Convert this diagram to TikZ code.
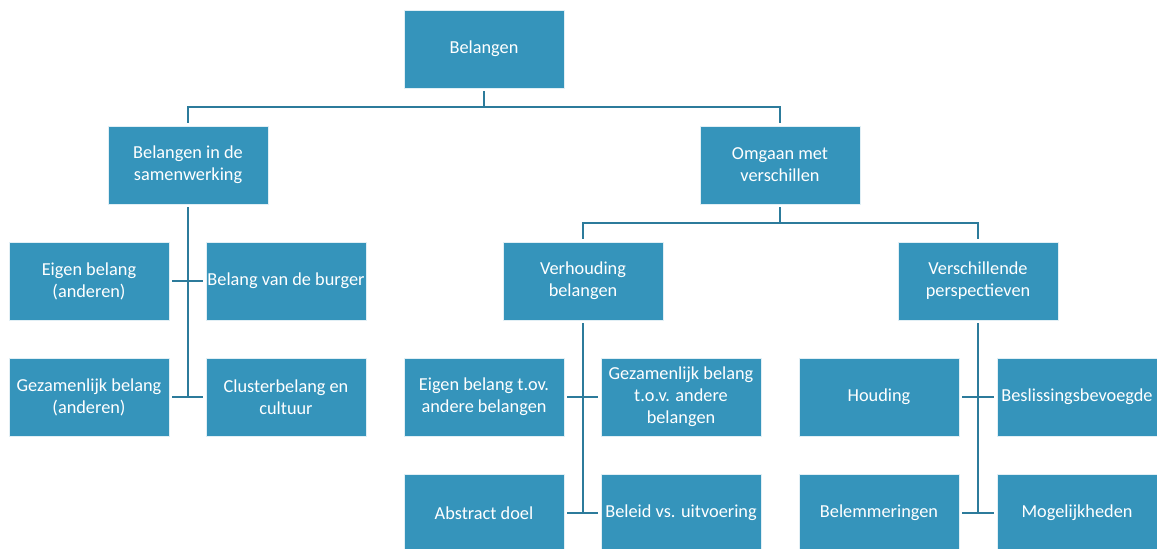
\documentclass[tikz,border=0pt]{standalone}
\usepackage{fontspec}
\setmainfont{Carlito}
\usepackage{tikz}
\definecolor{boxblue}{HTML}{3594BB}
\definecolor{lineblue}{HTML}{2C7B9B}

\begin{document}
\begin{tikzpicture}
  [x=1pt,y=-1pt,
   every node/.style={fill=boxblue,draw=white!85!boxblue,line width=.6pt,
     minimum width=160pt,minimum height=78pt,inner sep=0pt,align=center,
     text=white,font=\fontsize{18.3}{22}\selectfont},
   link/.style={draw=lineblue,line width=2.7pt,shorten <=3pt,shorten >=3pt}]
  \useasboundingbox (0,0) rectangle (1157,549);

  \node (bel) at (484,49) {Belangen};

  \node (samen) at (188,165) {Belangen in de\\samenwerking};
  \node (omgaan) at (780,165) {Omgaan met\\verschillen};

  \node (eigen) at (89,281) {Eigen belang\\(anderen)};
  \node (burger) at (286,281) {Belang van de burger};
  \node (gezam) at (89,397) {Gezamenlijk belang\\(anderen)};
  \node (cluster) at (286,397) {Clusterbelang en\\cultuur};

  \node (verh) at (583,281) {Verhouding\\belangen};
  \node (versch) at (978,281) {Verschillende\\perspectieven};

  \node (eigentov) at (484,397) {Eigen belang t.ov.\\andere belangen};
  \node (gezamtov) at (681,397) {Gezamenlijk belang\\t.o.v. andere\\belangen};
  \node (abstract) at (484,513) {Abstract doel};
  \node (beleid) at (681,513) {Beleid vs. uitvoering};

  \node (houding) at (879,397) {Houding};
  \node (beslis) at (1077,397) {Beslissingsbevoegde};
  \node (belem) at (879,513) {Belemmeringen};
  \node (mogelijk) at (1077,513) {Mogelijkheden};

  % bovenste niveau
  \draw[link,shorten >=0pt] (bel.south) -- (bel.south |- 0,107);
  \draw[link] (samen.north) |- (bel.south |- 0,107) -| (omgaan.north);

  % belangen in de samenwerking
  \draw[link,shorten >=0pt] (samen.south) -- (samen.south |- cluster.west);
  \draw[link] (eigen.east) -- (burger.west);
  \draw[link] (gezam.east) -- (cluster.west);

  % omgaan met verschillen
  \draw[link,shorten >=0pt] (omgaan.south) -- (omgaan.south |- 0,223);
  \draw[link] (verh.north) |- (omgaan.south |- 0,223) -| (versch.north);

  \draw[link,shorten >=0pt] (verh.south) -- (verh.south |- beleid.west);
  \draw[link] (eigentov.east) -- (gezamtov.west);
  \draw[link] (abstract.east) -- (beleid.west);

  \draw[link,shorten >=0pt] (versch.south) -- (versch.south |- mogelijk.west);
  \draw[link] (houding.east) -- (beslis.west);
  \draw[link] (belem.east) -- (mogelijk.west);

\end{tikzpicture}
\end{document}
